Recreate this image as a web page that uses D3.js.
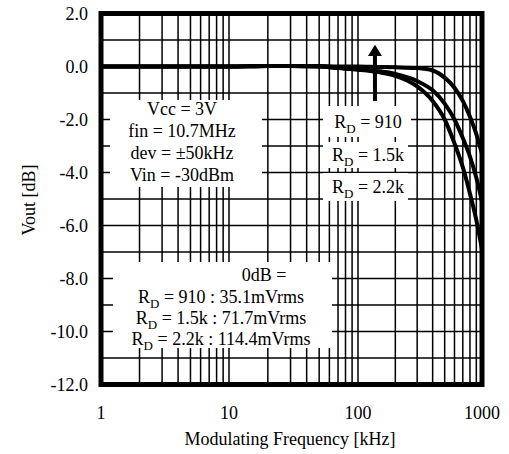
<!DOCTYPE html>
<html>
<head>
<meta charset="utf-8">
<script src="https://cdn.jsdelivr.net/npm/d3@7"></script>
<style>
  html, body { margin: 0; padding: 0; background: #fff; }
  text { font-family: "Liberation Serif", "Times New Roman", serif; fill: #000; }
</style>
</head>
<body>
<svg id="chart" width="509" height="454"></svg>
<script>
// ---- data ----
const freqs = [1, 2, 5, 10, 20, 30, 50, 70, 100, 150, 200, 300, 400, 500, 600, 700, 800, 900, 1000];
const rd910 = [0, 0, 0, 0, 0.02, 0.02, 0.02, 0, 0, -0.02, -0.03, -0.06, -0.15, -0.42, -0.8, -1.3, -1.9, -2.55, -3.3];
const rd1k5 = [0, 0, 0, 0, 0.02, 0.02, 0, -0.05, -0.1, -0.18, -0.28, -0.55, -0.9, -1.4, -2.0, -2.7, -3.4, -4.2, -5.1];
const rd2k2 = [0, 0, 0, 0, 0.02, 0.02, 0, -0.06, -0.12, -0.22, -0.35, -0.75, -1.3, -2.0, -2.9, -3.8, -4.8, -5.8, -6.9];
const xTickValues = [1, 10, 100, 1000];
const xTickLabels = ["1", "10", "100", "1000"];
const yTickValues = [2, 0, -2, -4, -6, -8, -10, -12];
const yTickLabels = ["2.0", "0.0", "-2.0", "-4.0", "-6.0", "-8.0", "-10.0", "-12.0"];
const conditionLines = ["Vcc = 3V", "fin = 10.7MHz", "dev = \u00B150kHz", "Vin = -30dBm"];
const seriesLabels = ["910", "1.5k", "2.2k"];
const refLines = ["910 : 35.1mVrms", "1.5k : 71.7mVrms", "2.2k : 114.4mVrms"];

const svg = d3.select("#chart");
const x = d3.scaleLog().domain([1, 10, 100, 1000]).range([101, 229, 358, 482]);
const y = d3.scaleLinear().domain([-12, 2]).range([384.5, 13.5]);
const FS = 18;

// grid
const vGrid = [];
[1, 10, 100].forEach(d => { for (let k = 1; k <= 9; k++) { const v = d * k; if (v > 1 && v < 1000) vGrid.push(v); } });
const hGrid = d3.range(-11, 2, 1);
const grid = svg.append("g").attr("stroke", "#000").attr("stroke-width", 1.5);
grid.selectAll(".v").data(vGrid).join("line")
  .attr("x1", d => x(d)).attr("x2", d => x(d)).attr("y1", y(2)).attr("y2", y(-12));
grid.selectAll(".h").data(hGrid).join("line")
  .attr("x1", x(1)).attr("x2", x(1000)).attr("y1", d => y(d)).attr("y2", d => y(d));

// white annotation boxes
const boxes = [
  [110, 100, 262, 187],
  [113, 262, 332, 348],
  [323, 106, 411, 137],
  [323, 142, 408, 168],
  [323, 173, 408, 201]
];
svg.append("g").selectAll("rect").data(boxes).join("rect")
  .attr("x", d => d[0]).attr("y", d => d[1])
  .attr("width", d => d[2] - d[0]).attr("height", d => d[3] - d[1])
  .attr("fill", "#fff");

// curves
const line = d3.line().x(d => x(d[0])).y(d => y(d[1])).curve(d3.curveMonotoneX);
[rd910, rd1k5, rd2k2].forEach(s => {
  svg.append("path").datum(freqs.map((f, i) => [f, s[i]]))
    .attr("d", line).attr("fill", "none").attr("stroke", "#000")
    .attr("stroke-width", 4).attr("stroke-linejoin", "round");
});

// border
svg.append("rect").attr("x", x(1)).attr("y", y(2))
  .attr("width", x(1000) - x(1)).attr("height", y(-12) - y(2))
  .attr("fill", "none").attr("stroke", "#000").attr("stroke-width", 5);

// arrow
const ax = x(137);
svg.append("line").attr("x1", ax).attr("x2", ax).attr("y1", y(-1.3)).attr("y2", y(0.45))
  .attr("stroke", "#000").attr("stroke-width", 4);
svg.append("path")
  .attr("d", `M${ax},${y(0.82)} L${ax - 7},${y(0.4)} L${ax + 7},${y(0.4)} Z`)
  .attr("fill", "#000");

// axis labels
svg.append("g").selectAll("text").data(xTickValues).join("text")
  .attr("x", d => x(d)).attr("y", 419).attr("text-anchor", "middle")
  .attr("font-size", FS).text((d, i) => xTickLabels[i]);
svg.append("g").selectAll("text").data(yTickValues).join("text")
  .attr("x", 88).attr("y", d => y(d) + 6).attr("text-anchor", "end")
  .attr("font-size", FS).text((d, i) => yTickLabels[i]);
svg.append("text").attr("x", 290).attr("y", 445).attr("text-anchor", "middle")
  .attr("font-size", FS).text("Modulating Frequency [kHz]");
svg.append("text").attr("transform", "translate(35,200) rotate(-90)")
  .attr("text-anchor", "middle").attr("font-size", FS).text("Vout [dB]");

// conditions box
svg.append("g").selectAll("text").data(conditionLines).join("text")
  .attr("x", 182).attr("y", (d, i) => 115 + i * 22).attr("text-anchor", "middle")
  .attr("font-size", FS).text(d => d);

function rdText(g, xc, yb, rest) {
  const t = g.append("text").attr("x", xc).attr("y", yb).attr("text-anchor", "middle").attr("font-size", FS);
  t.append("tspan").text("R");
  t.append("tspan").attr("font-size", 13).attr("dy", 5).text("D");
  t.append("tspan").attr("dy", -5).text(" = " + rest);
}
const lg = svg.append("g");
seriesLabels.forEach((s, i) => rdText(lg, 368, [128, 161, 193][i], s));

svg.append("text").attr("x", 264).attr("y", 281).attr("text-anchor", "middle")
  .attr("font-size", FS).text("0dB =");
refLines.forEach((s, i) => rdText(lg, 221, 303 + i * 21, s));
</script>
</body>
</html>
